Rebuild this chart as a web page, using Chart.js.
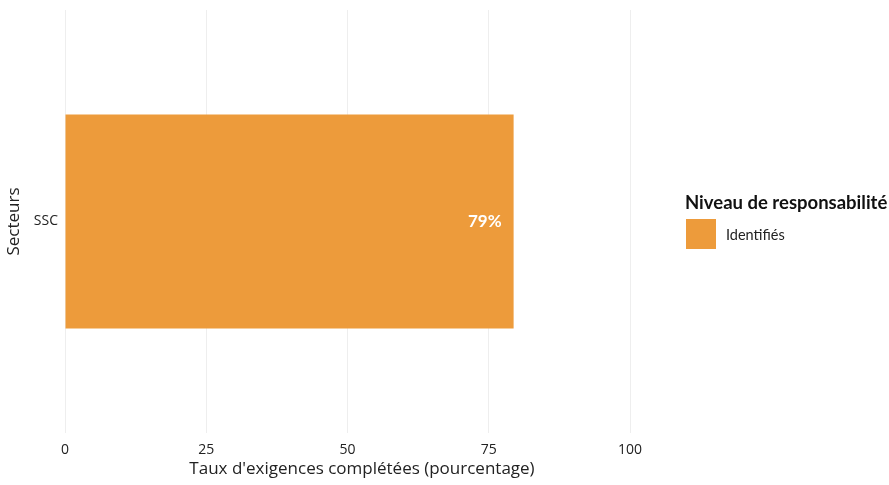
<!DOCTYPE html>
<html>
<head>
<meta charset="utf-8">
<script src="https://cdn.jsdelivr.net/npm/chart.js@4/dist/chart.umd.min.js"></script>
<style>
  html, body { margin: 0; padding: 0; background: #fff; }
  #wrap { width: 889px; height: 485px; }
</style>
</head>
<body>
<div id="wrap"><canvas id="chart"></canvas></div>
<script>
// données
let secteurs = ["SSC"];
let taux = [79.4];
let etiquettes = ["79%"];
let xTicks = [0, 25, 50, 75, 100];
let xTitre = "Taux d'exigences complétées (pourcentage)";
let legendeTitre = "Niveau de responsabilité";
let legendeNoms = ["Identifiés"];
let couleurs = ["#ED9B3B"];

// étiquette blanche au bout de la barre
const barLabels = {
    id: 'barLabels',
    afterDatasetsDraw(chart) {
        let ctx = chart.ctx;
        let meta = chart.getDatasetMeta(0);
        ctx.save();
        ctx.fillStyle = "#ffffff";
        ctx.font = "bold 17px Lato";
        ctx.textAlign = "right";
        ctx.textBaseline = "middle";
        meta.data.forEach((bar, i) => {
            ctx.fillText(etiquettes[i], bar.x - 12, bar.y);
        });
        ctx.restore();
    }
};

// titre de l'axe x + légende à droite, façon ggplot
const sideLegend = {
    id: 'sideLegend',
    afterDraw(chart) {
        let ctx = chart.ctx;
        ctx.save();
        ctx.fillStyle = "#222222";
        ctx.font = "17px 'Open Sans'";
        ctx.textAlign = "center";
        ctx.textBaseline = "middle";
        ctx.fillText(xTitre, 362, 469);

        ctx.fillStyle = "#111111";
        ctx.font = "bold 18.5px Lato";
        ctx.textAlign = "left";
        ctx.fillText(legendeTitre, 685, 203);
        legendeNoms.forEach((nom, i) => {
            let y = 219 + i * 32;
            ctx.fillStyle = couleurs[i];
            ctx.fillRect(686, y, 30, 30);
            ctx.fillStyle = "#222222";
            ctx.font = "14.5px Lato";
            ctx.fillText(nom, 726, y + 16);
        });
        ctx.restore();
    }
};

new Chart(document.getElementById("chart"), {
    type: 'bar',
    data: {
        labels: secteurs,
        datasets: [{
            label: legendeNoms[0],
            data: taux,
            backgroundColor: couleurs[0],
            borderWidth: 0,
            barPercentage: 0.506,
            categoryPercentage: 1
        }]
    },
    options: {
        indexAxis: 'y',
        responsive: true,
        maintainAspectRatio: false,
        animation: false,
        layout: { padding: { top: 10, right: 259, left: 4, bottom: 1 } },
        plugins: {
            legend: { display: false },
            tooltip: { enabled: false }
        },
        scales: {
            x: {
                min: 0,
                max: 100,
                afterBuildTicks: (scale) => { scale.ticks = xTicks.map(v => ({ value: v })); },
                grid: { color: "#EEEEEE", lineWidth: 1, drawTicks: false },
                border: { display: false },
                ticks: {
                    color: "#222222",
                    padding: 9,
                    font: { family: "Open Sans", size: 14 }
                },
                afterFit: (scale) => { scale.height = 51; }
            },
            y: {
                grid: { display: false, drawTicks: false },
                border: { display: false },
                ticks: {
                    color: "#222222",
                    padding: 7,
                    font: { family: "Open Sans", size: 14 }
                },
                title: {
                    display: true,
                    text: "Secteurs",
                    color: "#222222",
                    padding: { top: 0, bottom: 0 },
                    font: { family: "Open Sans", size: 17 }
                },
                afterFit: (scale) => {
                    scale.width = 61;
                    scale.paddingTop = 0;
                    scale.paddingBottom = 0;
                }
            }
        }
    },
    plugins: [barLabels, sideLegend]
});
</script>
</body>
</html>
